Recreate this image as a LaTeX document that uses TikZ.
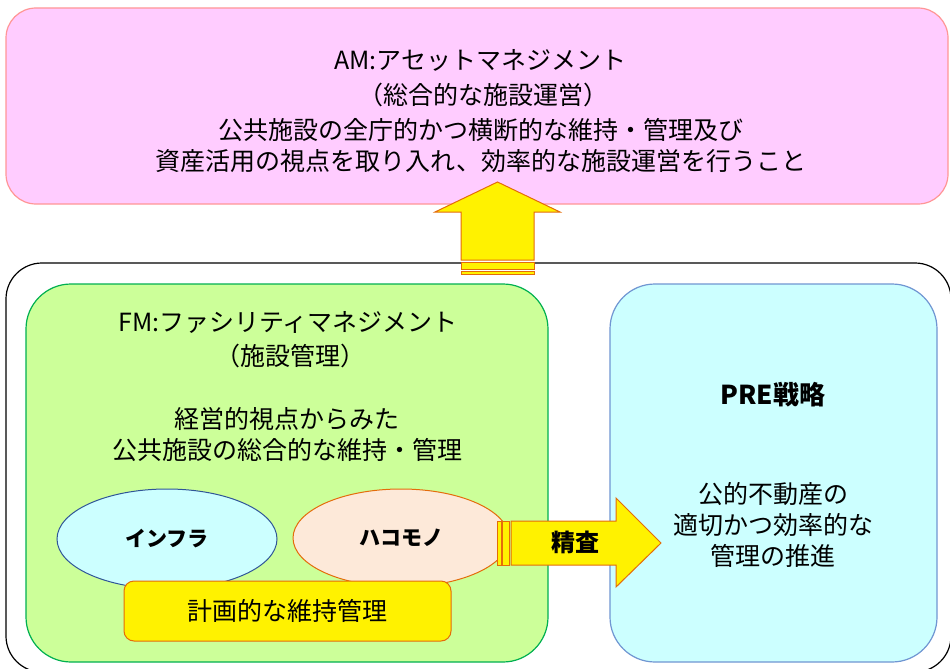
\documentclass[tikz,border=0pt]{standalone}
\usepackage{fontspec}
\setmainfont{Noto Sans CJK JP}
\usetikzlibrary{calc,shapes.geometric}
\definecolor{amfill}{RGB}{255,204,255}
\definecolor{amline}{RGB}{255,150,150}
\definecolor{fmfill}{RGB}{204,255,153}
\definecolor{fmline}{RGB}{0,176,80}
\definecolor{prefill}{RGB}{204,255,255}
\definecolor{preline}{RGB}{112,150,210}
\definecolor{infraline}{RGB}{47,85,151}
\definecolor{hakofill}{RGB}{253,233,217}
\definecolor{arrowline}{RGB}{228,108,10}
\tikzset{
  panel/.style={draw, line width=1.2pt, rounded corners=#1},
  label/.style={inner sep=0pt, align=center, font=\fontsize{25}{31}\selectfont},
  tag/.style={inner sep=0pt, font=\fontsize{#1}{#1}\selectfont\bfseries},
  blockarrow/.style={draw=arrowline, fill=yellow, line width=1pt, line join=miter}
}
\begin{document}
\begin{tikzpicture}[x=1pt, y=-1pt]
      \useasboundingbox (0,0) rectangle (950,669);
      \node[panel=36pt, draw=black, fill=white, minimum width=945pt, minimum height=409pt] (outer) at (478.5,467.5) {};
      \node[panel=30pt, draw=amline, fill=amfill, minimum width=942pt, minimum height=196pt] (am) at (477,106) {};
      \node[panel=45pt, draw=fmline, fill=fmfill, minimum width=522pt, minimum height=378pt] (fm) at (287,473) {};
      \node[panel=45pt, draw=preline, fill=prefill, minimum width=327pt, minimum height=378pt] (pre) at (773.5,473) {};
      \node[ellipse, draw=infraline, fill=prefill, line width=1pt, minimum width=220pt, minimum height=100pt, tag=21] (infra) at (167,539) {インフラ};
      \node[ellipse, draw=arrowline, fill=hakofill, line width=1pt, minimum width=216pt, minimum height=98pt, tag=21] (hako) at (401,538) {ハコモノ};
      \node[panel=10pt, draw=arrowline, fill=yellow, line width=1pt, minimum width=327pt, minimum height=60pt, label] (plan) at (287.5,611) {計画的な維持管理};
      \draw
        (480,60) node[label] (amtitle){AM:アセットマネジメント}
        (483,95) node[label] (amsub){（総合的な施設運営）}
        (481,145) node[label] (amtext){公共施設の全庁的かつ横断的な維持・管理及び\\資産活用の視点を取り入れ、効率的な施設運営を行うこと}
        (288,322) node[label] (fmtitle){FM:ファシリティマネジメント}
        (290,356) node[label] (fmsub){（施設管理）}
        (287,434.5) node[label] (fmtext){経営的視点からみた\\公共施設の総合的な維持・管理}
        (773,395) node[tag=26] (pretitle){PRE戦略}
        (773,525) node[label] (pretext){公的不動産の\\適切かつ効率的な\\管理の推進};
      \coordinate (upfoot) at (497.5,260);
      \coordinate (uptip) at (497.5,182);
      \coordinate (rtfoot) at (511,543);
      \coordinate (rttip) at (661,543);
      \begin{scope}[every path/.style={blockarrow}]
        \draw ($(upfoot)+(-36.5,0)$) -- ($(upfoot)+(-36.5,-48)$) -- ($(upfoot)+(-62.5,-48)$) -- (uptip)
          -- ($(upfoot)+(62.5,-48)$) -- ($(upfoot)+(36.5,-48)$) -- ($(upfoot)+(36.5,0)$) -- cycle;
        \draw ($(upfoot)+(-36.5,2)$) rectangle ($(upfoot)+(36.5,9)$);
        \draw ($(upfoot)+(-36.5,11)$) rectangle ($(upfoot)+(36.5,14)$);
        \draw ($(rtfoot)+(0,-22)$) -- ($(rtfoot)+(105,-22)$) -- ($(rtfoot)+(105,-45)$) -- (rttip)
          -- ($(rtfoot)+(105,44)$) -- ($(rtfoot)+(105,22)$) -- ($(rtfoot)+(0,22)$) -- cycle;
        \draw ($(rtfoot)+(-2,-22)$) rectangle ($(rtfoot)+(-9,22)$);
        \draw ($(rtfoot)+(-10,-22)$) rectangle ($(rtfoot)+(-14,22)$);
      \end{scope}
      \node[tag=24] (check) at (575,542) {精査};
    \end{tikzpicture}
\end{document}
